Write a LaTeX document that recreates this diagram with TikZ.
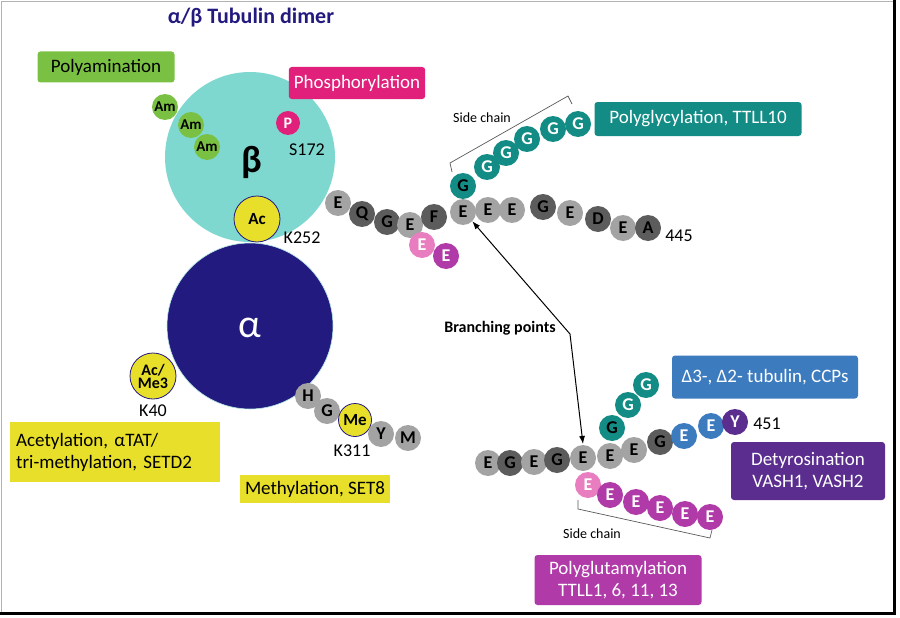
\documentclass[tikz,border=0pt]{standalone}
\usepackage{fontspec}
\setmainfont{Carlito}
\usetikzlibrary{arrows.meta}
\definecolor{teal1}{HTML}{138C86}
\definecolor{lgray}{HTML}{A3A3A3}
\definecolor{dgray}{HTML}{5C5C5C}
\definecolor{pinkl}{HTML}{E87DC0}
\definecolor{mag}{HTML}{B03AA8}
\definecolor{blu}{HTML}{3D7BBF}
\definecolor{purp}{HTML}{5A2D8F}
\definecolor{navy}{HTML}{231A80}
\definecolor{cyanb}{HTML}{7FD8D0}
\definecolor{grn}{HTML}{7AC143}
\definecolor{pnk}{HTML}{E0207A}
\definecolor{yel}{HTML}{E8DF2A}
\begin{document}
\begin{tikzpicture}[x=1pt,y=-1pt,
 res/.style={circle,minimum size=26pt,inner sep=0pt,font=\fontsize{18}{18}\selectfont\bfseries},
 lr/.style={res,fill=lgray}, dr/.style={res,fill=dgray},
 tg/.style={res,fill=teal1,text=white}, pe/.style={res,fill=pinkl,text=white},
 me/.style={res,fill=mag,text=white}, be/.style={res,fill=blu,text=white},
 lab/.style={font=\fontsize{18}{20}\selectfont},
 box/.style={rounded corners=3pt,font=\fontsize{19}{22}\selectfont,align=center,inner sep=5pt},
 yc/.style={circle,fill=yel,draw=navy,line width=0.8pt,inner sep=0pt,font=\fontsize{17}{17}\selectfont\bfseries}]
\useasboundingbox (0,0) rectangle (900,618);
\draw[gray!60,line width=0.8pt] (1,1) rectangle (894,613);
\draw[black,line width=3pt] (894,0) -- (894,613) -- (0,613);
\node (title) at (251,18) {\fontsize{22}{24}\selectfont\bfseries\color{navy}α/β Tubulin dimer};
% main circles
\node[circle,fill=cyanb,minimum size=170pt] (beta) at (250,157) {};
\node[circle,fill=navy,minimum size=166pt,draw=cyanb!60,line width=0.6pt] (alpha) at (250,326) {};
\node at (252,162) {\fontsize{38}{38}\selectfont\bfseries β};
\node[text=white] at (250,328) {\fontsize{40}{40}\selectfont α};
% boxes
\node[box,fill=grn,minimum width=137pt,minimum height=31pt] (bam) at (106,67) {Polyamination};
\node[box,fill=pnk,text=white,minimum width=136pt,minimum height=32pt] (bph) at (357,83) {Phosphorylation};
\node[box,fill=yel,rounded corners=0pt,minimum width=210pt,minimum height=60pt,align=left,anchor=north west,text width=198pt] (bac) at (10,422) {Acetylation, αTAT/\\tri-methylation, SETD2};
\node[box,fill=yel,rounded corners=0pt,minimum width=140pt,minimum height=28pt] (bme) at (315,489) {Methylation, SET8};
\node[box,fill=teal1,text=white,minimum width=207pt,minimum height=34pt] (bgl) at (698,119) {Polyglycylation, TTLL10};
\node[box,fill=blu,text=white,minimum width=186pt,minimum height=43pt] (bde) at (765,377) {Δ3-, Δ2- tubulin, CCPs};
\node[box,fill=purp,text=white,minimum width=154pt,minimum height=58pt] (bdt) at (808,471) {Detyrosination\\VASH1, VASH2};
\node[box,fill=mag,text=white,minimum width=167pt,minimum height=50pt] (bpg) at (618,580) {Polyglutamylation\\TTLL1, 6, 11, 13};
% Am
\foreach \x/\y/\n in {165/107/a1,191/125/a2,207/147/a3}
 \node[circle,fill=grn,minimum size=26pt,inner sep=0pt,font=\fontsize{15}{15}\selectfont\bfseries] (\n) at (\x,\y) {Am};
\node[circle,fill=pnk,text=white,minimum size=24pt,inner sep=0pt,font=\fontsize{16}{16}\selectfont\bfseries] (p) at (288,123) {P};
\node[lab] at (307,150) {S172};
\node[yc,minimum size=46pt] (ac) at (257,219) {Ac};
\node[lab] at (302,238) {K252};
\node[yc,minimum size=46pt,align=center,font=\fontsize{16}{13}\selectfont\bfseries] (acme) at (153,376) {Ac/\\Me3};
\node[lab] at (153,411) {K40};
% alpha tail
\node[lr] (h) at (308,396) {H};
\node[lr] (g1) at (327,411) {G};
\node[yc,minimum size=33pt] (mm) at (355,420) {Me};
\node[lr] (y1) at (381,434) {Y};
\node[lr] (m1) at (408,438) {M};
\node[lab] at (352,451) {K311};
% beta tail
\foreach \x/\y/\l/\s [count=\i] in {338/203/E/lr,362/214/Q/dr,387/222/G/dr,410/225/E/lr,434/217/F/dr,463/212/E/lr,488/210/E/lr,512/210/E/lr,543/207/G/dr,570/213/E/lr,598/219/D/dr,623/228/E/lr,648/228/A/dr}
 \node[\s] (b\i) at (\x,\y) {\l};
\node[lab] at (679,236) {445};
\node[pe] (pe1) at (422,245) {E};
\node[me] (pe2) at (446,256) {E};
\node[tg,text=black] (tg1) at (463,186) {G};
\foreach \x/\y [count=\i from 2] in {487/167,506/153,527/139,553/129,578/124}
 \node[tg] (tg\i) at (\x,\y) {G};
\draw[gray!70!black,line width=0.7pt] (452,172) -- (450,163) -- (568,96) -- (572,104);
\node[font=\fontsize{14}{16}\selectfont] at (482,118) {Side chain};
% branching
\node[font=\fontsize{16}{18}\selectfont\bfseries] (bp) at (500,328) {Branching points};
\coordinate (bend) at (570,334);
\draw[-{Latex[length=8pt]},line width=1pt] (bend) -- (b6.south east);
\draw[-{Latex[length=8pt]},line width=1pt] (bend) -- (583,444);
% lower chain
\foreach \x/\y/\l/\s [count=\i] in {488/463/E/lr,510/463/G/dr,534/462/E/lr,557/460/G/dr,583/458/E/lr,610/456/E/lr,634/450/E/lr,660/442/G/dr,684/436/E/be,711/426/E/be}
 \node[\s] (c\i) at (\x,\y) {\l};
\node[res,fill=purp,text=white] (cy) at (735,422) {Y};
\node[lab] at (767,424) {451};
\node[tg,text=black] (lg1) at (612,428) {G};
\node[tg] (lg2) at (628,405) {G};
\node[tg] (lg3) at (646,385) {G};
\node[pe] (le1) at (588,485) {E};
\foreach \x/\y [count=\i from 2] in {610/495,636/502,660/508,685/514,710/517}
 \node[me] (le\i) at (\x,\y) {E};
\draw[gray!70!black,line width=0.7pt] (578,500) -- (578,509) -- (710,538) -- (712,530);
\node[font=\fontsize{14}{16}\selectfont] at (592,534) {Side chain};
\end{tikzpicture}
\end{document}
